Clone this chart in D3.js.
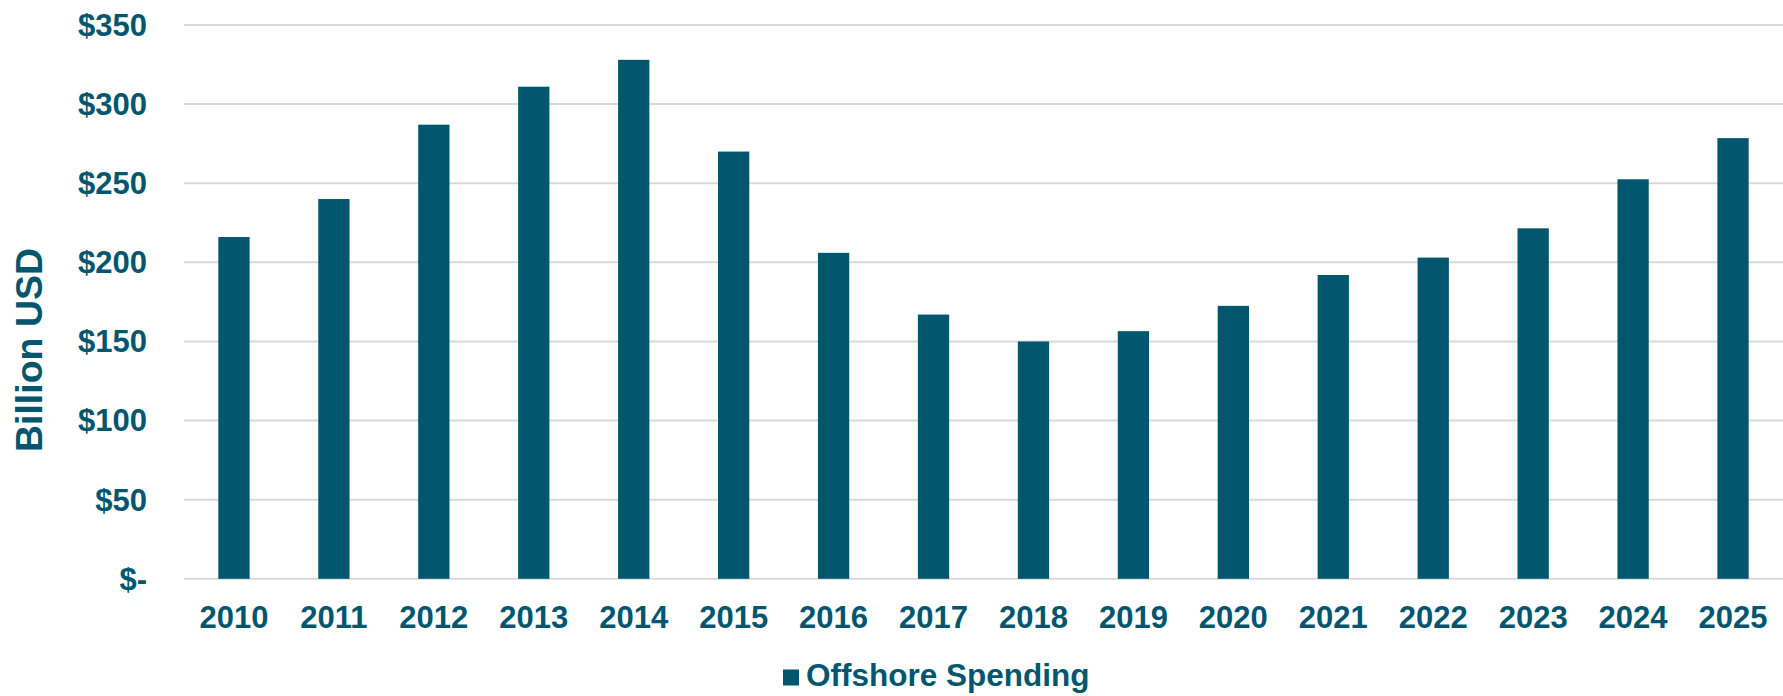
<!DOCTYPE html>
<html>
<head>
<meta charset="utf-8">
<script src="https://cdn.jsdelivr.net/npm/d3@7"></script>
<style>
    body { margin: 0; background: #fff; }
    text { font-family: "Liberation Sans", Arial, sans-serif; font-weight: bold; fill: #03566e; }
</style>
</head>
<body>
<div class="grp"></div>
<script>

var years = ['2010', '2011', '2012', '2013', '2014', '2015', '2016', '2017',
    '2018', '2019', '2020', '2021', '2022', '2023', '2024', '2025'];
var spending = [216, 240, 287, 311, 328, 270, 206, 167, 150, 156.5, 172.5, 192, 203, 221.5, 252.5, 278.5];
var yTicks = [0, 50, 100, 150, 200, 250, 300, 350];
var seriesName = 'Offshore Spending';
var yTitle = 'Billion USD';

var width = 1783, height = 696;
var margin = {left: 184, right: 0, top: 25, bottom: 117};
var barColor = '#02566e';

var svg = d3.select(".grp").append("svg")
    .attr("width", width)
    .attr("height", height);

var x = d3.scaleBand()
    .domain(years)
    .range([margin.left, width - margin.right])
    .paddingInner(0.687)
    .paddingOuter(0.3435);

var y = d3.scaleLinear()
    .domain([0, 350])
    .range([height - margin.bottom - 0.2, margin.top]);

// gridlines
svg.append("g").selectAll("line")
    .data(yTicks)
    .enter().append("line")
    .attr("x1", margin.left)
    .attr("x2", width - margin.right)
    .attr("y1", function (d) { return y(d) })
    .attr("y2", function (d) { return y(d) })
    .attr("stroke", "#d9d9d9")
    .attr("stroke-width", 2);

// y labels
svg.append("g").selectAll("text")
    .data(yTicks)
    .enter().append("text")
    .attr("x", 147)
    .attr("y", function (d) { return y(d) })
    .attr("dy", "0.35em")
    .attr("text-anchor", "end")
    .style("font-size", "31px")
    .text(function (d) { return d === 0 ? '$-' : '$' + d });

// bars
svg.append("g").selectAll("rect")
    .data(spending)
    .enter().append("rect")
    .attr("x", function (d, i) { return x(years[i]) })
    .attr("width", x.bandwidth())
    .attr("y", function (d) { return y(d) })
    .attr("height", function (d) { return y(0) - y(d) })
    .attr("fill", barColor);

// x labels
svg.append("g").selectAll("text")
    .data(years)
    .enter().append("text")
    .attr("x", function (d) { return x(d) + x.bandwidth() / 2 })
    .attr("y", 628)
    .attr("text-anchor", "middle")
    .style("font-size", "31px")
    .text(function (d) { return d });

// axis title
svg.append("text")
    .attr("transform", "translate(42," + 350 + ") rotate(-90)")
    .attr("text-anchor", "middle")
    .style("font-size", "37.5px")
    .text(yTitle);

// legend
svg.append("rect")
    .attr("x", 783)
    .attr("y", 669.5)
    .attr("width", 16)
    .attr("height", 16)
    .attr("fill", barColor);

svg.append("text")
    .attr("x", 806)
    .attr("y", 686)
    .style("font-size", "31.5px")
    .text(seriesName);

</script>
</body>
</html>
